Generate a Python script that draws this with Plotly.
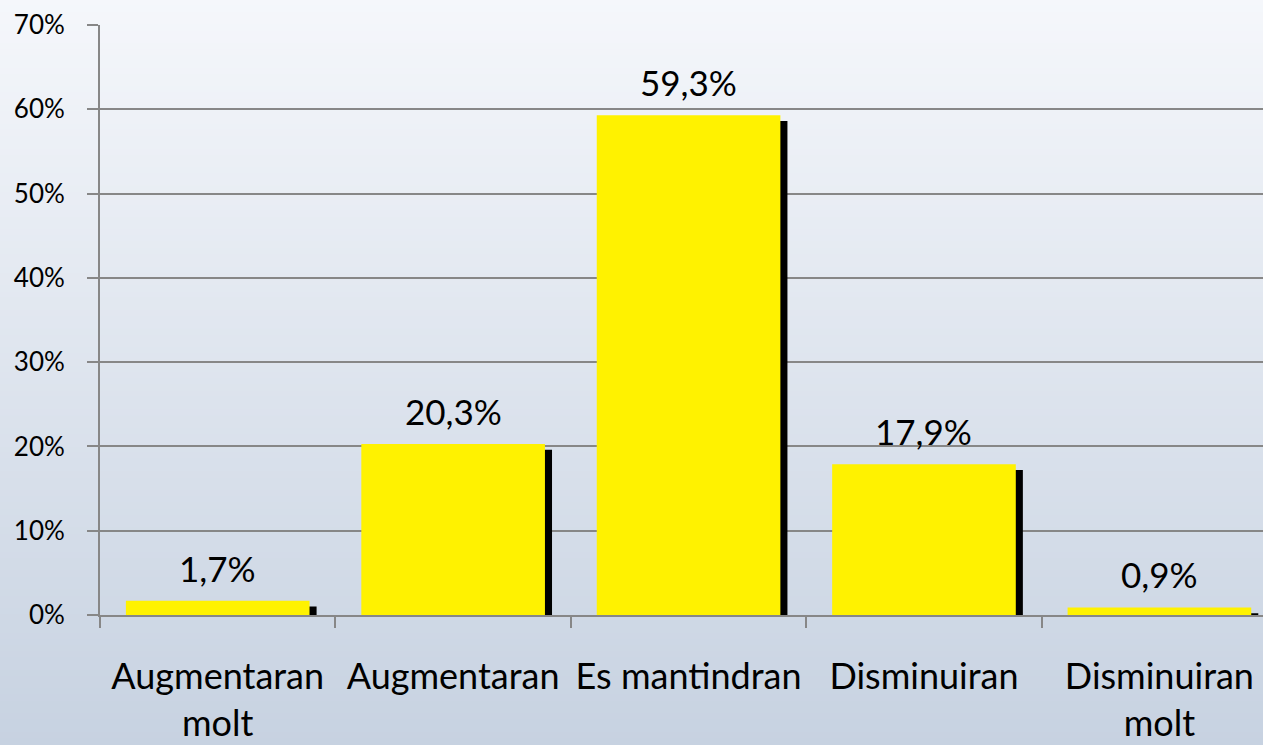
import plotly.graph_objects as go

# Survey answers and their shares (%)
categories = ["Augmentaran<br>molt", "Augmentaran", "Es mantindran", "Disminuiran", "Disminuiran<br>molt"]
values = [1.7, 20.3, 59.3, 17.9, 0.9]
value_labels = ["1,7%", "20,3%", "59,3%", "17,9%", "0,9%"]
y_ticks = [0, 10, 20, 30, 40, 50, 60, 70]
y_tick_labels = ["0%", "10%", "20%", "30%", "40%", "50%", "60%", "70%"]

FONT = "Lato"
GRID = "#878787"
BAR_W = 0.78
SHADOW_DX = 0.03      # shadow shift to the right, in category units
SHADOW_DY = 0.35      # shadow shift downwards, in percentage points

fig = go.Figure()

# drop shadow behind each bar
fig.add_trace(go.Bar(
    x=categories,
    y=[v - SHADOW_DY for v in values],
    base=-SHADOW_DY,
    width=BAR_W,
    offset=-BAR_W / 2 + SHADOW_DX,
    marker=dict(color="#000000", line=dict(width=0)),
    hoverinfo="skip",
    showlegend=False,
))

# yellow bars
fig.add_trace(go.Bar(
    x=categories,
    y=values,
    width=BAR_W,
    offset=-BAR_W / 2,
    marker=dict(color="#FFF200", line=dict(width=0)),
    showlegend=False,
))

# value labels above the bars
for c, v, t in zip(categories, values, value_labels):
    fig.add_annotation(
        x=c, y=v, text=t, showarrow=False,
        xanchor="center", yanchor="bottom", yshift=10,
        font=dict(family=FONT, size=35, color="#000000"),
    )

# vertical background gradient built from thin horizontal strips
top_rgb = (245, 247, 251)
bot_rgb = (199, 210, 225)
n_strips = 120
y0, y1 = -130 / 590, 1 + 25 / 590
for i in range(n_strips):
    f = (i + 0.5) / n_strips
    r, g, b = (round(top_rgb[k] + (bot_rgb[k] - top_rgb[k]) * f) for k in range(3))
    ya = y1 - (y1 - y0) * i / n_strips
    yb = y1 - (y1 - y0) * (i + 1) / n_strips
    fig.add_shape(
        type="rect", xref="paper", yref="paper",
        x0=-0.2, x1=1.1, y0=yb - 0.001, y1=ya + 0.001,
        fillcolor=f"rgb({r},{g},{b})", line=dict(width=0), layer="below",
    )

fig.update_layout(
    width=1263, height=745,
    margin=dict(l=100, r=0, t=25, b=130),
    paper_bgcolor="rgba(0,0,0,0)",
    plot_bgcolor="rgba(0,0,0,0)",
    bargap=0.22,
    font=dict(family=FONT, color="#000000"),
    xaxis=dict(
        type="category",
        range=[-0.5, 4.44],
        tickson="boundaries",
        ticks="outside", ticklen=11, tickwidth=2, tickcolor=GRID,
        showline=True, linecolor=GRID, linewidth=2,
        showgrid=False,
        tickangle=0,
        automargin=False,
        tickfont=dict(family=FONT, size=36),
        ticklabelstandoff=29,
    ),
    yaxis=dict(
        range=[0, 70],
        tickvals=y_ticks, ticktext=y_tick_labels,
        ticks="outside", ticklen=11, tickwidth=2, tickcolor=GRID,
        showline=True, linecolor=GRID, linewidth=2,
        showgrid=True, gridcolor=GRID, gridwidth=2,
        zeroline=False,
        automargin=False,
        tickfont=dict(family=FONT, size=26),
        ticklabelstandoff=17,
    ),
)

fig.write_html("out.html")
